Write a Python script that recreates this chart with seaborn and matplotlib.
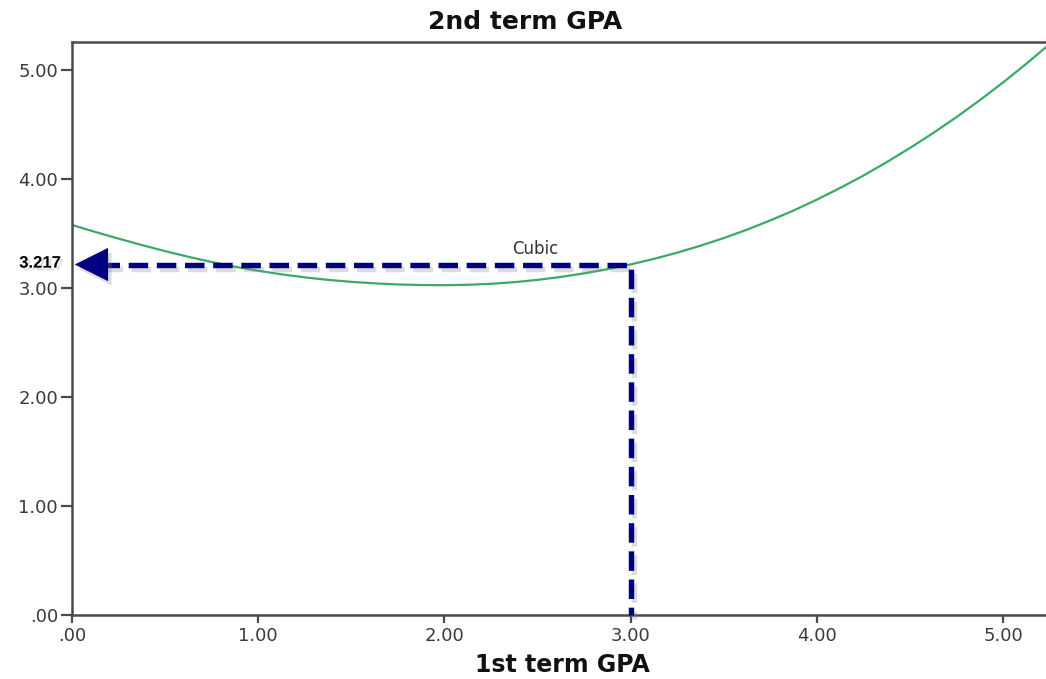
import matplotlib
matplotlib.use("Agg")
import matplotlib.pyplot as plt
import matplotlib.patheffects as pe
import pandas as pd
import seaborn as sns

# cubic fit curve (1st term GPA -> 2nd term GPA)
gpa_first = [0.000, 0.125, 0.250, 0.375, 0.500, 0.625, 0.750, 0.875, 1.000, 1.125, 1.250,
             1.375, 1.500, 1.625, 1.750, 1.875, 2.000, 2.125, 2.250, 2.375, 2.500, 2.625,
             2.750, 2.875, 3.000, 3.125, 3.250, 3.375, 3.500, 3.625, 3.750, 3.875, 4.000,
             4.125, 4.250, 4.375, 4.500, 4.625, 4.750, 4.875, 5.000, 5.125, 5.250]
gpa_second = [3.580, 3.516, 3.455, 3.396, 3.340, 3.288, 3.240, 3.197, 3.160, 3.127, 3.099,
              3.076, 3.058, 3.044, 3.034, 3.029, 3.027, 3.031, 3.040, 3.055, 3.076, 3.103,
              3.136, 3.174, 3.218, 3.269, 3.326, 3.390, 3.460, 3.537, 3.622, 3.713, 3.813,
              3.920, 4.034, 4.157, 4.287, 4.425, 4.571, 4.726, 4.889, 5.061, 5.241]

pred_x = 3.00
pred_y = 3.217
pred_label = "3.217"
curve_label = "Cubic"

tick_values = [0, 1, 2, 3, 4, 5]
tick_labels = [".00", "1.00", "2.00", "3.00", "4.00", "5.00"]

NAVY = "#000080"
GREEN = "#3aaa68"
AXIS_GREY = "#4a4a4a"


def main() -> None:
    sns.set_theme(style="white")
    plt.rcParams["font.family"] = ["DejaVu Sans"]

    df = pd.DataFrame({"first": gpa_first, "second": gpa_second})

    fig = plt.figure(figsize=(10.46, 6.79), dpi=100)
    ax = fig.add_axes([0.0688, 0.0943, 0.9312, 0.8439])

    sns.lineplot(data=df, x="first", y="second", color=GREEN, linewidth=1.6, ax=ax)

    shadow = [pe.SimpleLineShadow(offset=(2.5, -3), shadow_color="0.55", alpha=0.3), pe.Normal()]
    head_base = 0.15
    ax.plot([head_base, pred_x, pred_x], [pred_y, pred_y, 0], color=NAVY, linewidth=3.9,
            linestyle=(0, (3.6, 1.6)), dash_capstyle="butt", path_effects=shadow,
            clip_on=False, zorder=4)
    ax.annotate("", xy=(0, pred_y), xytext=(22, 0), textcoords="offset points",
                arrowprops=dict(arrowstyle="-|>,head_length=2.0,head_width=1.0",
                                color=NAVY, lw=0, shrinkA=0, shrinkB=2,
                                path_effects=[pe.SimplePatchShadow(offset=(2.5, -3), shadow_rgbFace="0.55",
                                                                   alpha=0.3), pe.Normal()]),
                zorder=5)
    ax.annotate(pred_label, xy=(0, pred_y), xytext=(-8, 1), textcoords="offset points",
                ha="right", va="center", fontsize=12, fontweight="bold",
                family=["Liberation Sans", "DejaVu Sans"], color="black",
                annotation_clip=False,
                path_effects=[pe.SimplePatchShadow(offset=(2, -2), shadow_rgbFace="0.6", alpha=0.3),
                              pe.Normal()])

    ax.text(2.49, 3.36, curve_label, ha="center", va="center", fontsize=12, color="#333333")

    ax.set_xlim(0, 5.23)
    ax.set_ylim(0, 5.26)
    ax.set_xticks(tick_values)
    ax.set_xticklabels(tick_labels)
    ax.set_yticks(tick_values)
    ax.set_yticklabels(tick_labels)
    ax.tick_params(axis="x", direction="out", length=6, width=1.6, color=AXIS_GREY,
                   labelsize=13, labelcolor="#3a3a3a", pad=3, bottom=True)
    ax.tick_params(axis="y", direction="out", length=8, width=1.6, color=AXIS_GREY,
                   labelsize=13, labelcolor="#3a3a3a", pad=2, left=True)

    for side in ["left", "top", "bottom"]:
        ax.spines[side].set_visible(True)
        ax.spines[side].set_color(AXIS_GREY)
        ax.spines[side].set_linewidth(1.8)
    ax.spines["right"].set_visible(False)

    ax.set_xlabel("")
    ax.set_ylabel("")
    fig.text(0.502, 0.968, "2nd term GPA", ha="center", va="center", fontsize=18,
             fontweight="bold", color="#111111")
    fig.text(0.538, 0.021, "1st term GPA", ha="center", va="center", fontsize=17,
             fontweight="bold", color="#111111")

    fig.savefig("out.png", dpi=100)
    plt.close(fig)


if __name__ == "__main__":
    main()
